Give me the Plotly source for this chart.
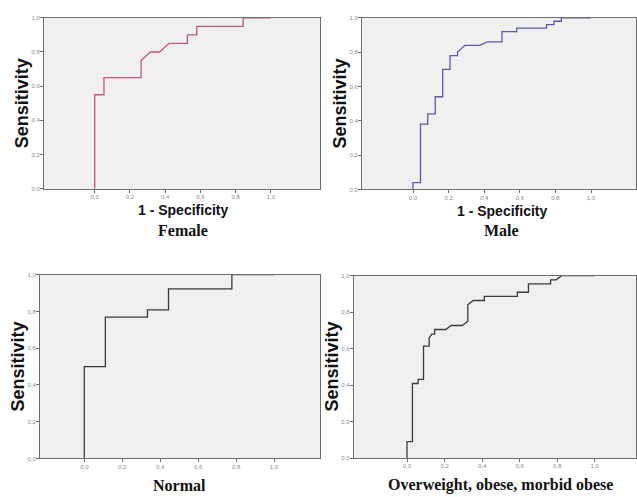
import plotly.graph_objects as go

# ROC curve data (1 - specificity, sensitivity)
female_fpr = [0, 0, 0.0526, 0.0526, 0.263, 0.263, 0.316, 0.368, 0.421, 0.526, 0.526, 0.579, 0.579, 0.842, 0.842, 1.0]
female_tpr = [0, 0.55, 0.55, 0.65, 0.65, 0.75, 0.80, 0.80, 0.85, 0.85, 0.90, 0.90, 0.95, 0.95, 1.0, 1.0]

male_fpr = [0, 0, 0.042, 0.042, 0.083, 0.083, 0.125, 0.125, 0.167, 0.167, 0.208, 0.208, 0.25, 0.25,
            0.292, 0.375, 0.417, 0.5, 0.5, 0.583, 0.583, 0.75, 0.75, 0.792, 0.792, 0.833, 0.833, 1.0]
male_tpr = [0, 0.04, 0.04, 0.38, 0.38, 0.44, 0.44, 0.54, 0.54, 0.70, 0.70, 0.78, 0.78, 0.80,
            0.84, 0.84, 0.86, 0.86, 0.92, 0.92, 0.94, 0.94, 0.96, 0.96, 0.98, 0.98, 1.0, 1.0]

normal_fpr = [0, 0, 0.111, 0.111, 0.333, 0.333, 0.444, 0.444, 0.778, 0.778, 1.0]
normal_tpr = [0, 0.50, 0.50, 0.769, 0.769, 0.808, 0.808, 0.923, 0.923, 1.0, 1.0]

over_fpr = [0, 0, 0.029, 0.029, 0.059, 0.059, 0.088, 0.088, 0.118, 0.118, 0.132, 0.147, 0.147,
            0.206, 0.235, 0.294, 0.324, 0.324, 0.353, 0.412, 0.412, 0.588, 0.588, 0.647, 0.647,
            0.765, 0.765, 0.794, 0.824, 1.0]
over_tpr = [0, 0.091, 0.091, 0.409, 0.409, 0.432, 0.432, 0.614, 0.614, 0.659, 0.680, 0.680, 0.705,
            0.705, 0.727, 0.727, 0.750, 0.841, 0.864, 0.864, 0.886, 0.886, 0.909, 0.909, 0.955,
            0.955, 0.977, 0.977, 1.0, 1.0]

tick_vals = [0, 0.2, 0.4, 0.6, 0.8, 1.0]

panels = [
    dict(x=female_fpr, y=female_tpr, color="#c2567f", title="Female", show_spec=True,
         xdom=[44/637, 320/637], ydom=[1-188/497, 1-15/497], xr=[-0.2876, 1.278]),
    dict(x=male_fpr, y=male_tpr, color="#5a5aa8", title="Male", show_spec=True,
         xdom=[362/637, 636/637], ydom=[1-188.7/497, 1-15/497], xr=[-0.2865, 1.2528]),
    dict(x=normal_fpr, y=normal_tpr, color="#3a3a3a", title="Normal", show_spec=False,
         xdom=[40/637, 320/637], ydom=[1-461/497, 1-275/497], xr=[-0.2335, 1.2425]),
    dict(x=over_fpr, y=over_tpr, color="#3a3a3a", title="Overweight, obese, morbid obese", show_spec=False,
         xdom=[353.7/637, 636/637], ydom=[1-460.7/497, 1-276/497], xr=[-0.284, 1.22]),
]

fig = go.Figure()
annotations = []
for i, p in enumerate(panels):
    n = "" if i == 0 else str(i + 1)
    fig.add_trace(go.Scatter(x=p["x"], y=p["y"], mode="lines",
                             line=dict(color=p["color"], width=1.3),
                             xaxis="x" + n, yaxis="y" + n, showlegend=False,
                             hoverinfo="skip"))
    axcommon = dict(showline=True, linecolor="#6e6e6e", linewidth=1, mirror=True,
                    showgrid=False, zeroline=False, ticks="outside", ticklen=3,
                    tickcolor="#6e6e6e", tickvals=tick_vals, tickformat=".1f",
                    ticklabelstandoff=-1,
                    tickfont=dict(family="Liberation Sans", size=6, color="#8a8a8a"))
    fig.update_layout(**{
        "xaxis" + n: dict(domain=p["xdom"], range=p["xr"], anchor="y" + n, **axcommon),
        "yaxis" + n: dict(domain=p["ydom"], range=[0, 1], anchor="x" + n, **axcommon),
    })
    x0, x1 = p["xdom"]
    y0, y1 = p["ydom"]
    # Sensitivity label
    annotations.append(dict(text="<b>Sensitivity</b>", xref="paper", yref="paper",
                            x=x0 - 22/637, y=(y0 + y1) / 2, showarrow=False, textangle=-90,
                            xanchor="center", yanchor="middle",
                            font=dict(family="Liberation Sans", size=18, color="#111")))
    cx = x0 + (p["xr"][0] * -1 + 0.5) / (p["xr"][1] - p["xr"][0]) * (x1 - x0)
    if p["show_spec"]:
        annotations.append(dict(text="<b>1 - Specificity</b>", xref="paper", yref="paper",
                                x=cx, y=y0 - 22/497, showarrow=False,
                                xanchor="center", yanchor="middle",
                                font=dict(family="Liberation Sans", size=14, color="#111")))
        ty = y0 - 42/497
    else:
        ty = y0 - 27/497
    annotations.append(dict(text="<b>" + p["title"] + "</b>", xref="paper", yref="paper",
                            x=cx, y=ty, showarrow=False, xanchor="center", yanchor="middle",
                            font=dict(family="Liberation Serif", size=16, color="#111")))

fig.update_layout(width=637, height=497, margin=dict(l=0, r=0, t=0, b=0),
                  paper_bgcolor="white", plot_bgcolor="#f0f0f0",
                  separators=",.", annotations=annotations)

fig.write_html("out.html")
